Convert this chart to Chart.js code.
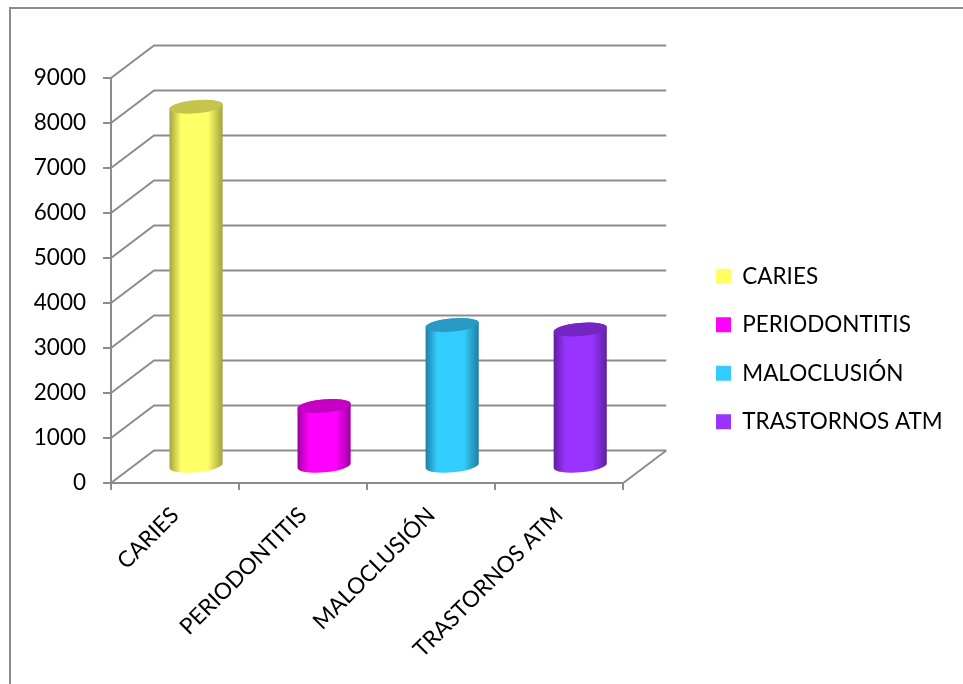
<!DOCTYPE html>
<html>
<head>
<meta charset="utf-8">
<title>Patologías</title>
<script src="https://cdn.jsdelivr.net/npm/chart.js@4"></script>
<style>
  html, body { margin: 0; background: #fff; overflow: hidden; }
  #frame { position: absolute; left: 9px; top: 7px; width: 1100px; height: 800px;
           border-left: 2px solid #8c8c8c; border-top: 2px solid #8c8c8c; }
  #chart { position: absolute; left: 0; top: 0; }
</style>
</head>
<body>
<div id="frame"></div>
<canvas id="chart" width="963" height="684"></canvas>
<script>
const categories = ['CARIES', 'PERIODONTITIS', 'MALOCLUSIÓN', 'TRASTORNOS ATM'];
const cases = [8000, 1350, 3150, 3050];

// centre, cap and edge shade for each cylinder
const barColors = ['#ffff66', '#ff00ff', '#33ccff', '#9933ff'];
const capColors = ['#c4c44e', '#c400c4', '#2799c4', '#7426c2'];
const edgeColors = ['#a3a340', '#a000a0', '#1f7fa3', '#5f209f'];

const gridColor = '#8c8c8c';
const fontFamily = 'Lato, "Open Sans", sans-serif';
const fontSize = 22.5;
const depthX = 43;
const depthY = 32.5;

// back wall and floor of the 3D box, hung off the real y scale
const wallPlugin = {
  id: 'wall',
  beforeDatasetsDraw(chart) {
    const { ctx, chartArea, scales } = chart;
    const { left, right } = chartArea;
    ctx.save();
    ctx.strokeStyle = gridColor;
    ctx.lineWidth = 2;
    scales.y.ticks.forEach(tick => {
      const y = scales.y.getPixelForValue(tick.value);
      ctx.beginPath();
      ctx.moveTo(left, y);
      ctx.lineTo(left + depthX, y - depthY);
      ctx.lineTo(right + depthX, y - depthY);
      ctx.stroke();
    });
    const base = scales.y.getPixelForValue(0);
    ctx.beginPath();
    ctx.moveTo(right, base);
    ctx.lineTo(right + depthX, base - depthY);
    ctx.stroke();
    ctx.restore();
  }
};

// replaces the flat bars with cylinders standing halfway into the box
const cylinderPlugin = {
  id: 'cylinders',
  beforeDatasetDraw(chart, args) {
    const { ctx } = chart;
    const tilt = -5 * Math.PI / 180;
    args.meta.data.forEach((bar, i) => {
      const halfW = bar.width / 2;
      const a = halfW / Math.cos(tilt);
      const b = 6.6;
      const cx = bar.x + depthX / 2 - 0.5;
      const topY = bar.y - depthY / 2;
      const baseY = bar.base - depthY / 2;

      const shade = ctx.createLinearGradient(cx - halfW, 0, cx + halfW, 0);
      shade.addColorStop(0, edgeColors[i]);
      shade.addColorStop(0.22, barColors[i]);
      shade.addColorStop(0.72, barColors[i]);
      shade.addColorStop(1, edgeColors[i]);

      ctx.beginPath();
      ctx.ellipse(cx, baseY, a, b, tilt, 0, Math.PI);
      ctx.ellipse(cx, topY, a, b, tilt, Math.PI, 2 * Math.PI);
      ctx.closePath();
      ctx.fillStyle = shade;
      ctx.fill();

      ctx.beginPath();
      ctx.ellipse(cx, topY, a, b, tilt, 0, 2 * Math.PI);
      ctx.fillStyle = capColors[i];
      ctx.fill();
    });
    return false;
  }
};

// the legend sits in the space right of the floor, not flush with the axes
const legendShiftPlugin = {
  id: 'legendShift',
  afterLayout(chart) {
    const { legend } = chart;
    const gap = legend.options.labels.padding;
    legend.left = 716 - gap;
    legend.right = 963;
    legend.top -= 32;
    legend.bottom -= 32;
  }
};

new Chart(document.getElementById('chart'), {
  type: 'bar',
  data: {
    labels: categories,
    datasets: [{
      label: 'Casos',
      data: cases,
      backgroundColor: barColors,
      barPercentage: 0.415,
      categoryPercentage: 1
    }]
  },
  plugins: [wallPlugin, cylinderPlugin, legendShiftPlugin],
  options: {
    responsive: false,
    animation: false,
    layout: { padding: { top: 78, right: 132, bottom: 0, left: 0 } },
    plugins: {
      tooltip: { enabled: false },
      legend: {
        position: 'right',
        labels: {
          color: '#000',
          font: { family: fontFamily, size: fontSize },
          boxWidth: 15,
          boxHeight: 15,
          padding: 26,
          generateLabels: () => categories.map((text, i) => ({
            text,
            fillStyle: barColors[i],
            strokeStyle: barColors[i],
            lineWidth: 0,
            hidden: false,
            index: i
          }))
        }
      }
    },
    scales: {
      x: {
        afterFit(scale) { scale.height = 201; },
        grid: { drawOnChartArea: false, color: gridColor, lineWidth: 2, tickLength: 7 },
        border: { color: gridColor, width: 2 },
        ticks: {
          color: '#000',
          font: { family: fontFamily, size: fontSize },
          minRotation: 45,
          maxRotation: 45,
          padding: 12
        }
      },
      y: {
        min: 0,
        max: 9000,
        afterFit(scale) { scale.width = 111; },
        grid: { drawOnChartArea: false, color: gridColor, lineWidth: 2, tickLength: 8 },
        border: { color: gridColor, width: 2 },
        ticks: {
          color: '#000',
          font: { family: fontFamily, size: fontSize },
          stepSize: 1000,
          format: { useGrouping: false },
          padding: 17
        }
      }
    }
  }
});
</script>
</body>
</html>
